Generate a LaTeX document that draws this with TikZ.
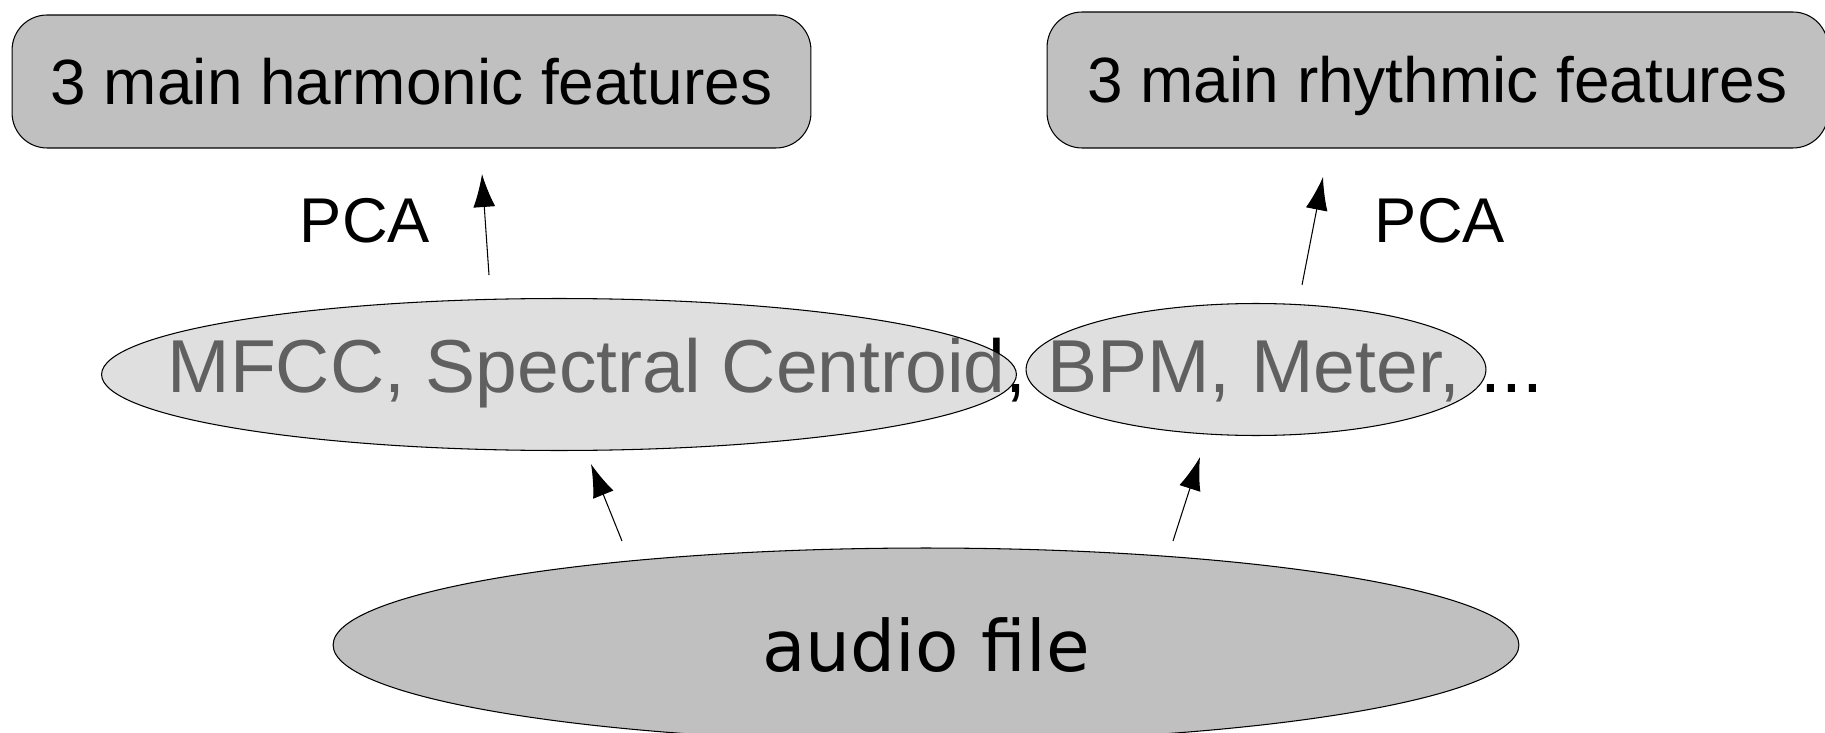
\documentclass[tikz,border=0pt]{standalone}
\usepackage{fontspec}
\setmainfont{Liberation Sans}
\newfontfamily\dvfont{DejaVu Sans}
\usetikzlibrary{shapes.geometric,arrows.meta}
\definecolor{boxgray}{HTML}{C0C0C0}

\begin{document}
\begin{tikzpicture}[x=0.02cm,y=-0.02cm,
  box/.style={draw,rounded corners=0.7cm,fill=boxgray,line width=0.6pt,inner sep=0pt,
    text height=26pt,text depth=0pt,font=\fontsize{36.4}{40}\selectfont},
  feature/.style={draw,ellipse,fill=boxgray,fill opacity=0.5,line width=0.6pt,inner sep=0pt},
  lbl/.style={anchor=base,inner sep=0pt,font=\fontsize{36}{40}\selectfont},
  arr/.style={-{Latex[length=0.66cm,width=0.44cm]},line width=0.6pt}]
\useasboundingbox (0,0) rectangle (1825,733);

% top boxes
\node[box,minimum width=15.98cm,minimum height=2.66cm] (harm) at (411.5,81.5) {3 main harmonic features};
\node[box,minimum width=15.62cm,minimum height=2.72cm] (rhy) at (1437.5,80) {3 main rhythmic features};

\node[lbl] (pcah) at (365,242) {PCA};
\node[lbl] (pcar) at (1440,242) {PCA};

% feature text, the ellipses go over it
\node[anchor=base,inner sep=0pt,font=\fontsize{42.7}{46}\selectfont] (feat) at (855.5,392)
  {MFCC, Spectral Centroid, BPM, Meter, ...};
\node[feature,minimum width=18.3cm,minimum height=3.04cm] (mfcc) at (559,374.5) {};
\node[feature,minimum width=9.2cm,minimum height=2.64cm] (bpm) at (1256,369.5) {};

% input
\node[draw,ellipse,fill=boxgray,line width=0.6pt,inner sep=0pt,minimum width=23.72cm,minimum height=3.88cm,
  font=\dvfont\fontsize{40.4}{44}\selectfont] (audio) at (926,645) {audio file};

% arrows
\coordinate (h0) at (489,275);  \coordinate (h1) at (482,174);
\coordinate (r0) at (1302,285); \coordinate (r1) at (1323,177);
\coordinate (a0) at (622,541);  \coordinate (a1) at (591,464);
\coordinate (b0) at (1173,541); \coordinate (b1) at (1200,457);
\draw[arr] (h0) -- (h1);
\draw[arr] (r0) -- (r1);
\draw[arr] (a0) -- (a1);
\draw[arr] (b0) -- (b1);
\end{tikzpicture}
\end{document}
